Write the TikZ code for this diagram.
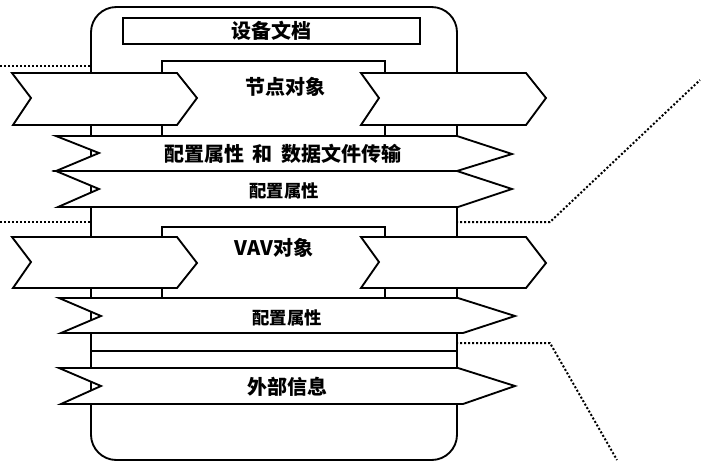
\documentclass[tikz,border=0pt]{standalone}
\usepackage{fontspec}
\newfontfamily\cjk{Noto Sans CJK SC}
\begin{document}
\begin{tikzpicture}[x=0.75pt,y=-0.75pt, line width=1.4pt, line join=miter,
  shp/.style={draw=black, fill=white},
  lbl/.style={font=\cjk\bfseries\fontsize{15}{18}\selectfont, inner sep=0pt},
  lbls/.style={font=\cjk\bfseries\fontsize{13}{16}\selectfont, inner sep=0pt},
  dots/.style={line width=1.5pt, dash pattern=on 1.5pt off 1.5pt}]
\useasboundingbox (0,0) rectangle (708,462);
% dotted leader lines
\coordinate (l1) at (0,66);
\coordinate (l1e) at (92,66);
\coordinate (l2) at (0,222);
\coordinate (l2e) at (92,222);
\coordinate (r1s) at (456,222);
\coordinate (r1m) at (550,222);
\coordinate (r1e) at (700,80);
\coordinate (r2s) at (456,343);
\coordinate (r2m) at (550,343);
\coordinate (r2e) at (617,460);
\draw[dots] (l1) -- (l1e);
\draw[dots] (l2) -- (l2e);
\draw[dots] (r1s) -- (r1m) -- (r1e);
\draw[dots] (r2s) -- (r2m) -- (r2e);
% outer frame
\draw[shp, rounded corners=19pt] (91,7) rectangle (457,460);
% title box
\draw[shp] (123,18) rectangle (420,44);
% inner object boxes
\draw[shp] (162,61) rectangle (385,136);
\draw[shp] (162,227) rectangle (385,298);
% separator line
\draw (91,351) -- (457,351);
% row 1 chevrons
\draw[shp] (12,73) -- (177,73) -- (197,98) -- (177,125) -- (13,125) -- (31,98) -- cycle;
\draw[shp] (361,73) -- (526,73) -- (546,98) -- (526,125) -- (361,125) -- (379,98) -- cycle;
% stripes 1 and 2
\draw[shp] (56,136) -- (457,136) -- (512,154) -- (457,171) -- (56,171) -- (99,153) -- cycle;
\draw[shp] (56,171) -- (457,171) -- (512,189) -- (458,207) -- (58,207) -- (99,189) -- cycle;
% row 2 chevrons
\draw[shp] (12,237) -- (177,237) -- (197,263) -- (177,288) -- (13,288) -- (31,262) -- cycle;
\draw[shp] (361,237) -- (526,237) -- (546,263) -- (526,288) -- (361,288) -- (379,262) -- cycle;
% stripes 3 and 4
\draw[shp] (59,298) -- (458,298) -- (515,316) -- (463,333) -- (61,333) -- (101,316) -- cycle;
\draw[shp] (59,368) -- (458,368) -- (515,386) -- (463,404) -- (61,404) -- (101,386) -- cycle;
% labels
\node[lbl] (title) at (271,31) {设备文档};
\node[lbl] (node) at (285,87) {节点对象};
\node[lbl] (cfgdata) at (283,154) {配置属性\hspace{0.45em}和\hspace{0.45em}数据文件传输};
\node[lbls] (cfg1) at (284,191) {配置属性};
\node[lbl] (vav) at (274,248) {VAV对象};
\node[lbls] (cfg2) at (287,318) {配置属性};
\node[lbl] (ext) at (287,387) {外部信息};
\end{tikzpicture}
\end{document}
